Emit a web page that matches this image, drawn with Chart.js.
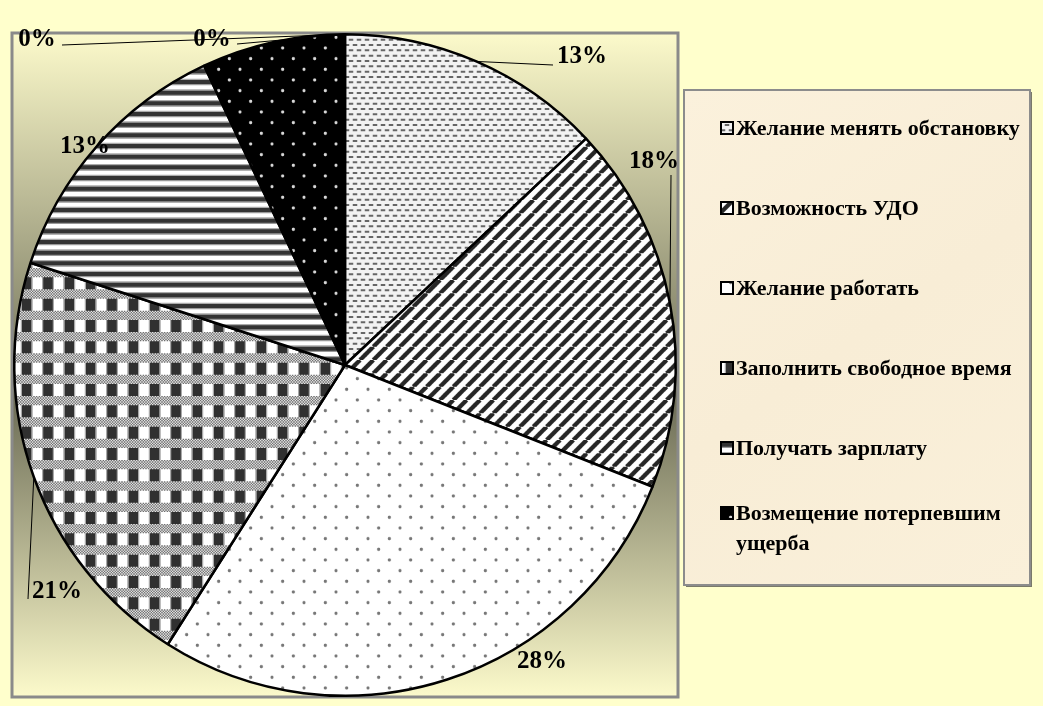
<!DOCTYPE html>
<html>
<head>
<meta charset="utf-8">
<script src="https://cdn.jsdelivr.net/npm/chart.js@4.4.1/dist/chart.umd.min.js"></script>
<style>
  html, body { margin: 0; padding: 0; background: #ffffcc; }
  #chart { display: block; }
</style>
</head>
<body>
<canvas id="chart" width="1043" height="706"></canvas>
<script>
// Data (the last two categories are empty 0% slices)
const categories = [
    'Желание менять обстановку',
    'Возможность УДО',
    'Желание работать',
    'Заполнить свободное время',
    'Получать зарплату',
    'Возмещение потерпевшим ущерба',
    '',
    ''
];
const values = [13, 18, 28, 21, 13, 7, 0, 0];

// Where each data label sits and where its leader line starts (null = no label / no line)
const labelLayout = [
    { x: 582, y: 57, line: [553, 65] },
    { x: 654, y: 162, line: [671, 175] },
    { x: 542, y: 662, line: null },
    { x: 57, y: 592, line: [28, 599] },
    { x: 85, y: 147, line: null },
    null,
    { x: 37, y: 40, line: [62, 45] },
    { x: 212, y: 40, line: [237, 44] }
];

const legendBox = { x: 684, y: 90, w: 346, h: 495 };
const LEGEND_FIRST = 128;
const LEGEND_STEP = 80;
const LEGEND_LINE = 30;

const SERIF = '"Liberation Serif", "Times New Roman", serif';

const canvas = document.getElementById('chart');
const ctx = canvas.getContext('2d');

// Patterns are drawn at 2x and scaled down by 2/3 (8px office tiles at 4/3 zoom)
function makePattern(w, h, draw) {
    const c = document.createElement('canvas');
    c.width = w;
    c.height = h;
    const g = c.getContext('2d');
    draw(g, w, h);
    const p = ctx.createPattern(c, 'repeat');
    p.setTransform(new DOMMatrix().scale(2 / 3));
    return p;
}

function dots(g, bg, fg) {
    g.fillStyle = bg;
    g.fillRect(0, 0, 32, 32);
    g.fillStyle = fg;
    [[8, 8], [24, 24]].forEach(([x, y]) => {
        g.beginPath();
        g.arc(x, y, 2.4, 0, Math.PI * 2);
        g.fill();
    });
}

const patterns = [
    // small dashes
    makePattern(12, 16, (g) => {
        g.fillStyle = '#f2f2f2';
        g.fillRect(0, 0, 12, 16);
        g.fillStyle = '#666';
        g.fillRect(1, 2, 7, 3);
        g.fillRect(7, 10, 7, 3);
        g.fillRect(-5, 10, 7, 3);
    }),
    // wide diagonal stripes
    makePattern(20, 20, (g) => {
        g.fillStyle = '#fff';
        g.fillRect(0, 0, 20, 20);
        g.strokeStyle = '#262626';
        g.lineWidth = 6.5;
        [-20, 0, 20].forEach(x0 => {
            g.beginPath();
            g.moveTo(x0, 20);
            g.lineTo(x0 + 20, 0);
            g.stroke();
        });
    }),
    // sparse gray dots on white
    makePattern(32, 32, (g) => dots(g, '#fff', '#777')),
    // checker with dotted bands
    makePattern(32, 32, (g) => {
        g.fillStyle = '#a8a8a8';
        g.fillRect(0, 0, 32, 32);
        g.fillStyle = '#fff';
        g.fillRect(17, 0, 14, 18);
        g.fillStyle = '#303030';
        g.fillRect(1, 0, 14, 18);
        for (let y = 18; y < 32; y += 2) {
            for (let x = 0; x < 32; x += 2) {
                g.fillStyle = ((x + y) / 2) % 2 ? '#e6e6e6' : '#6e6e6e';
                g.fillRect(x, y, 2, 2);
            }
        }
    }),
    // horizontal stripes
    makePattern(8, 16, (g) => {
        g.fillStyle = '#fff';
        g.fillRect(0, 0, 8, 6);
        g.fillStyle = '#aaa';
        g.fillRect(0, 6, 8, 2);
        g.fillStyle = '#333';
        g.fillRect(0, 8, 8, 6);
        g.fillStyle = '#999';
        g.fillRect(0, 14, 8, 2);
    }),
    // light dots on black
    makePattern(32, 32, (g) => dots(g, '#000', '#d8d8d8')),
    '#ffffff',
    '#ffffff'
];

const plotBackground = {
    id: 'plotBackground',
    beforeDatasetsDraw(chart) {
        const { ctx, chartArea: a } = chart;
        ctx.save();
        const grad = ctx.createLinearGradient(0, a.top, 0, a.bottom);
        grad.addColorStop(0, '#fcfacb');
        grad.addColorStop(0.55, '#6c6c56');
        grad.addColorStop(1, '#fcfacb');
        ctx.fillStyle = grad;
        ctx.fillRect(a.left, a.top, a.right - a.left, a.bottom - a.top);
        ctx.strokeStyle = '#8a8a8a';
        ctx.lineWidth = 3;
        ctx.strokeRect(a.left, a.top, a.right - a.left, a.bottom - a.top);
        ctx.restore();
    }
};

const sliceLabels = {
    id: 'sliceLabels',
    afterDatasetsDraw(chart) {
        const { ctx } = chart;
        const arcs = chart.getDatasetMeta(0).data;
        const total = values.reduce((a, b) => a + b, 0);
        ctx.save();
        ctx.font = 'bold 25px ' + SERIF;
        ctx.fillStyle = '#000';
        ctx.strokeStyle = '#000';
        ctx.lineWidth = 1;
        ctx.textAlign = 'center';
        ctx.textBaseline = 'middle';
        arcs.forEach((arc, i) => {
            const pos = labelLayout[i];
            if (!pos) return;
            if (pos.line) {
                const mid = (arc.startAngle + arc.endAngle) / 2;
                const ex = arc.x + Math.cos(mid) * arc.outerRadius;
                const ey = arc.y + Math.sin(mid) * arc.outerRadius;
                ctx.beginPath();
                ctx.moveTo(pos.line[0], pos.line[1]);
                ctx.lineTo(ex, ey);
                ctx.stroke();
            }
            ctx.fillText(Math.round(values[i] / total * 100) + '%', pos.x, pos.y);
        });
        ctx.restore();
    }
};

function wrapText(ctx, text, maxWidth) {
    const words = text.split(' ');
    const lines = [];
    let line = '';
    words.forEach(w => {
        const test = line ? line + ' ' + w : w;
        if (ctx.measureText(test).width > maxWidth && line) {
            lines.push(line);
            line = w;
        } else {
            line = test;
        }
    });
    lines.push(line);
    return lines;
}

const sideLegend = {
    id: 'sideLegend',
    afterDraw(chart) {
        const { ctx } = chart;
        const b = legendBox;
        ctx.save();
        // shadow + box
        ctx.fillStyle = '#7a7a6a';
        ctx.fillRect(b.x + 2, b.y + 2, b.w, b.h);
        const grad = ctx.createLinearGradient(b.x, b.y, b.x + b.w, b.y + b.h);
        grad.addColorStop(0, '#fbf1dc');
        grad.addColorStop(0.5, '#f8edd6');
        grad.addColorStop(1, '#faf0da');
        ctx.fillStyle = grad;
        ctx.fillRect(b.x, b.y, b.w, b.h);
        ctx.strokeStyle = '#8c8c8c';
        ctx.lineWidth = 2;
        ctx.strokeRect(b.x, b.y, b.w, b.h);

        ctx.font = 'bold 22px ' + SERIF;
        ctx.textBaseline = 'middle';
        ctx.textAlign = 'left';
        let k = 0;
        categories.forEach((name, i) => {
            if (!name) return;
            const lines = wrapText(ctx, name, 290);
            const top = LEGEND_FIRST + k * LEGEND_STEP - (lines.length - 1) * LEGEND_LINE / 2;
            // marker
            ctx.fillStyle = patterns[i];
            ctx.fillRect(721, top - 6, 12, 12);
            ctx.strokeStyle = '#000';
            ctx.lineWidth = 2;
            ctx.strokeRect(721, top - 6, 12, 12);
            ctx.fillStyle = '#000';
            lines.forEach((ln, j) => ctx.fillText(ln, 736, top + j * LEGEND_LINE + 1));
            k++;
        });
        ctx.restore();
    }
};

new Chart(ctx, {
    type: 'pie',
    data: {
        labels: categories,
        datasets: [{
            data: values,
            backgroundColor: patterns,
            borderColor: '#000',
            borderWidth: 2.5
        }]
    },
    options: {
        responsive: false,
        animation: false,
        devicePixelRatio: 1,
        layout: { padding: { left: 12, top: 33, right: 365, bottom: 9 } },
        plugins: {
            legend: { display: false },
            tooltip: { enabled: false }
        }
    },
    plugins: [plotBackground, sliceLabels, sideLegend]
});
</script>
</body>
</html>
